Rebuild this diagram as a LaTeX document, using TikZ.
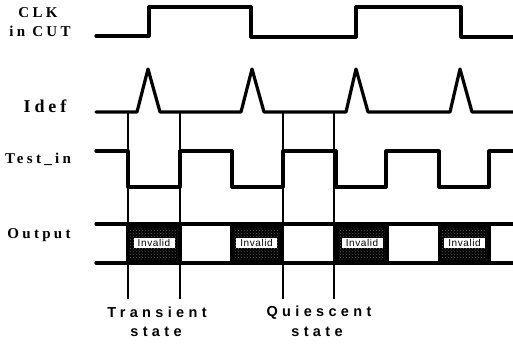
\documentclass[tikz,border=0pt]{standalone}
\usepackage{fontspec}
\setmainfont{Liberation Serif}
\newfontfamily\lblfont[LetterSpace=22]{Liberation Serif}
\newfontfamily\stfont[LetterSpace=30]{Liberation Sans}
\newfontfamily\invfont[LetterSpace=6]{Liberation Sans}
\usetikzlibrary{patterns}
\begin{document}
\begin{tikzpicture}[x=1pt,y=-1pt,
  wave/.style={line width=3.2pt,line join=round,line cap=round},
  guide/.style={line width=1.6pt},
  siglabel/.style={font=\lblfont\bfseries\fontsize{15}{15}\selectfont,inner sep=0pt},
  statelabel/.style={font=\stfont\bfseries\fontsize{14.5}{14.5}\selectfont,inner sep=0pt},
  invlabel/.style={fill=white,font=\invfont\fontsize{10}{10}\selectfont,inner sep=0pt,minimum width=41pt,minimum height=10.5pt}]
\useasboundingbox (0,0) rectangle (513,343);
% signal labels
\node[siglabel] (clk) at (38,13) {CLK};
\node[siglabel] (cut) at (40,31) {in CUT};
\node[siglabel,font=\lblfont\bfseries\fontsize{18}{18}\selectfont] (idef) at (45,106) {Idef};
\node[siglabel] (testin) at (38,159) {Test\_in};
\node[siglabel] (output) at (39,235) {Output};
% CLK
\draw[wave] (96,36) -- (149,36) -- (149,7) -- (251,7) -- (251,37) -- (356,37) -- (356,7) -- (461,7) -- (461,37) -- (513,37);
% Idef
\draw[wave] (96,112) -- (137,112) -- (148,69) -- (160,112) -- (241,112) -- (252,69) -- (264,112) -- (346,112) -- (356,69) -- (368,112) -- (450,112) -- (460,69) -- (472,112) -- (513,112);
% Test_in
\draw[wave] (96,151) -- (128,151) -- (128,187) -- (180,187) -- (180,151) -- (232,151) -- (232,187) -- (283,187) -- (283,151) -- (336,151) -- (336,187) -- (386,187) -- (386,151) -- (439,151) -- (439,187) -- (489,187) -- (489,151) -- (513,151);
% Output boxes
\foreach \a/\b/\n in {126/182/1,230/283/2,335/389/3,438/491/4}{
  \fill[black] (\a,224) rectangle (\b,263);
  \fill[pattern=crosshatch dots,pattern color=black!65] (\a+4,228) rectangle (\b-4,259);
  \node[invlabel] (inv\n) at ({(\a+\b)/2},243) {Invalid};
}
\draw[wave] (96,224) -- (513,224);
\draw[wave] (96,263) -- (513,263);
% guide lines
\coordinate (g1t) at (128,112); \coordinate (g1b) at (128,299);
\coordinate (g2t) at (180,112); \coordinate (g2b) at (180,299);
\coordinate (g3t) at (283,112); \coordinate (g3b) at (283,299);
\coordinate (g4t) at (334,112); \coordinate (g4b) at (334,299);
\draw[guide] (g1t) -- (g1b);
\draw[guide] (g2t) -- (g2b);
\draw[guide] (g3t) -- (g3b);
\draw[guide] (g4t) -- (g4b);
% state labels
\node[statelabel] (tr) at (157,312) {Transient};
\node[statelabel] (trs) at (156,332) {state};
\node[statelabel] (qu) at (319,313) {Quiescent};
\node[statelabel] (qus) at (317,332) {state};
\end{tikzpicture}
\end{document}
